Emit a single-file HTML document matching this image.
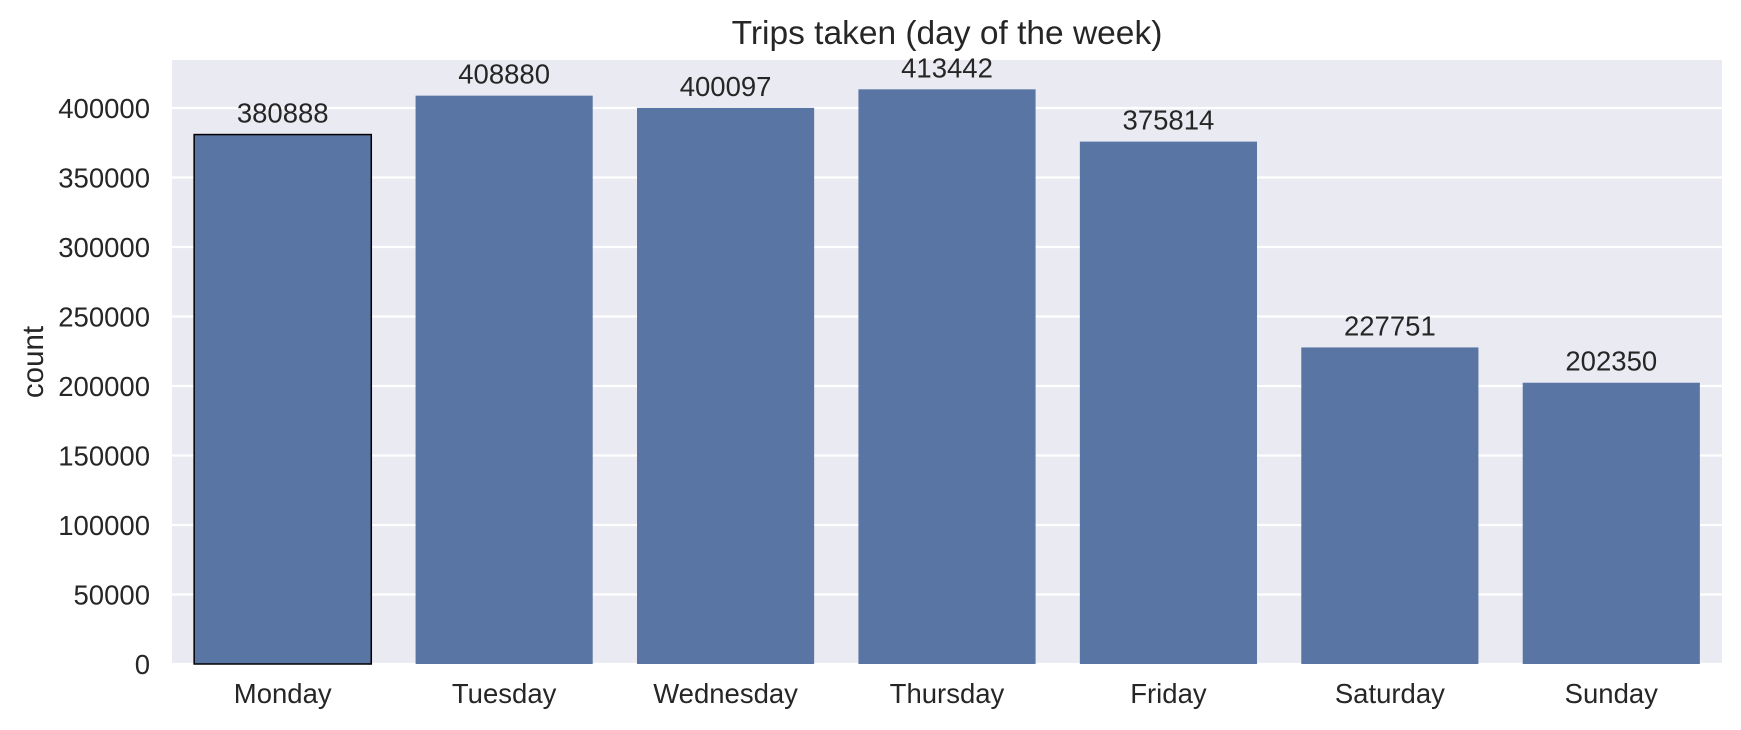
<!DOCTYPE html>
<html><head><meta charset="utf-8"><style>
body{margin:0;background:#fff}
svg{display:block;font-family:"Liberation Sans",Arial,sans-serif}
</style></head><body>
<svg id="chart" width="1741" height="730" viewBox="0 0 1741 730">
<rect x="172" y="60" width="1550" height="604" fill="#eaeaf2"/>
<g id="grid"></g><g id="bars"></g><g id="ylabels"></g><g id="xlabels"></g><g id="vals"></g>
<text x="947" y="44" text-anchor="middle" font-size="33.5" fill="#262626">Trips taken (day of the week)</text>
<text transform="translate(43,362) rotate(-90)" text-anchor="middle" font-size="29.5" fill="#262626">count</text>
</svg>
<script>
const categories=["Monday","Tuesday","Wednesday","Thursday","Friday","Saturday","Sunday"];
const counts=[380888,408880,400097,413442,375814,227751,202350];
const yTicks=[0,50000,100000,150000,200000,250000,300000,350000,400000];
const L=172,R=1722,T=60,B=664,yMax=434532;
const NS="http://www.w3.org/2000/svg";
function y(v){return B-(v/yMax)*(B-T);}
const band=(R-L)/categories.length;
function xc(i){return L+band*(i+0.5);}
function mk(tag,attrs,parent,text){const e=document.createElementNS(NS,tag);for(const k in attrs)e.setAttribute(k,attrs[k]);if(text!==undefined)e.textContent=text;document.getElementById(parent).appendChild(e);return e;}
yTicks.forEach(t=>{
  const g=mk("line",{x1:L,x2:R,y1:y(t),y2:y(t),stroke:"#fff","stroke-width":2.2},"grid");
  
  
  const l=mk("text",{x:150,y:y(t)+10,"text-anchor":"end","font-size":27.5,fill:"#262626"},"ylabels",String(t));
  
  
});
categories.forEach((c,i)=>{
  const w=band*0.8,x=xc(i)-w/2,top=y(counts[i]);
  const r=mk("rect",{x:x,y:top,width:w,height:B-top,fill:"#5975a4"},"bars");
  if(i===0){r.setAttribute("stroke","#000");r.setAttribute("stroke-width","1.5");}
  
  
  const xl=mk("text",{x:xc(i),y:703,"text-anchor":"middle","font-size":27.5,fill:"#262626"},"xlabels",c);
  
  
  const v=mk("text",{x:xc(i),y:top-12,"text-anchor":"middle","font-size":27.5,fill:"#262626"},"vals",String(counts[i]));
  
  
});
</script>
</body></html>
